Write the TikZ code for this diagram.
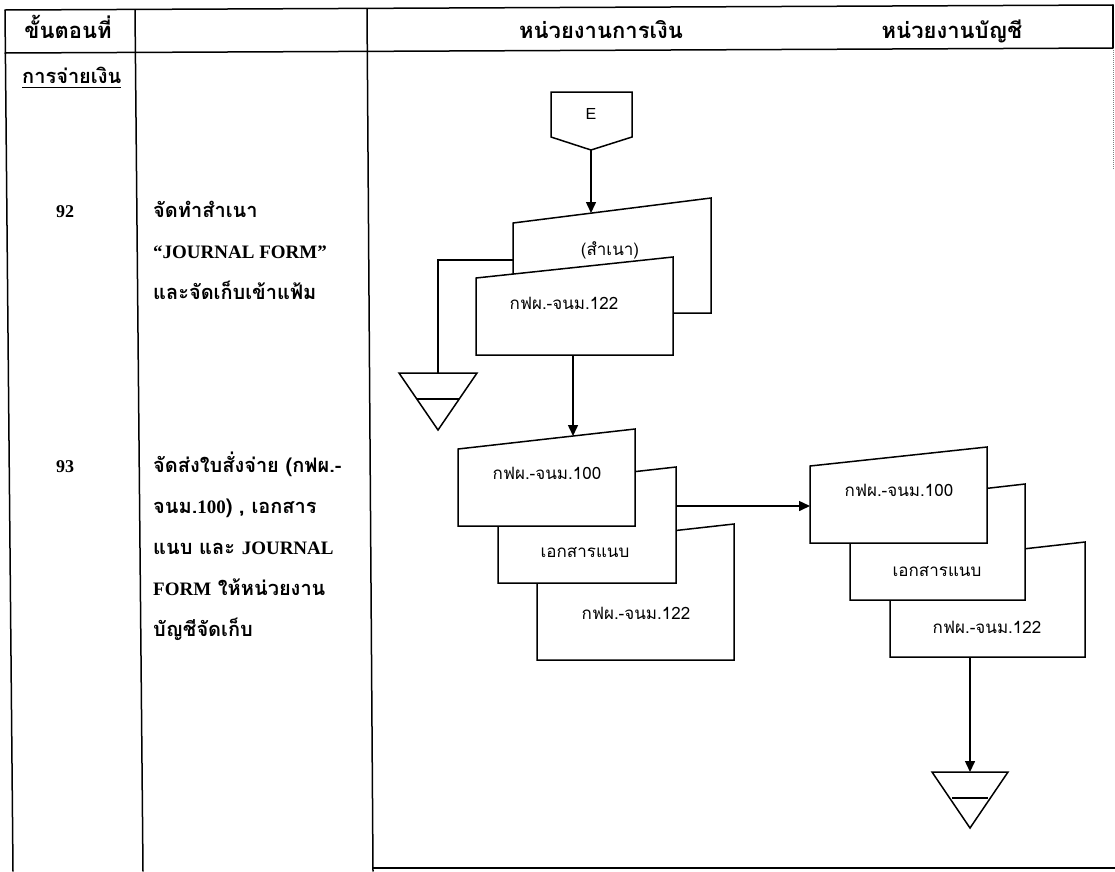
\documentclass[tikz,border=0pt]{standalone}
\usepackage{fontspec}
\setmainfont{Liberation Serif}
\setsansfont{Liberation Sans}
\newfontfamily\thaifont[Script=Thai]{Loma}
\usetikzlibrary{arrows.meta}
% Latin words inside the Thai step descriptions
\newcommand\lat[1]{{\rmfamily\bfseries\fontsize{19}{21}\selectfont #1}}
\begin{document}
\begin{tikzpicture}[x=1pt,y=-1pt,
  rule/.style={line width=1.5pt,line cap=round},
  docbox/.style={draw,line width=1.5pt,fill=white,line join=miter},
  flow/.style={line width=1.5pt,-{Triangle[length=11pt,width=10pt]}},
  link/.style={line width=1.5pt},
  filebox/.style={draw,line width=1.5pt,fill=white},
  head/.style={font=\thaifont\bfseries\fontsize{22}{24}\selectfont,anchor=base,inner sep=0pt},
  steptext/.style={font=\thaifont\bfseries\fontsize{20}{22}\selectfont,anchor=base west,inner sep=0pt},
  stepno/.style={font=\bfseries\fontsize{18}{20}\selectfont,anchor=base,inner sep=0pt},
  doclabel/.style={font=\thaifont\fontsize{17}{19}\selectfont,inner sep=0pt},
]
\useasboundingbox (0,0) rectangle (1115,871);

% ---- table frame ----
\draw[rule] (5,10) -- (1113,5);
\draw[rule] (5,53) -- (1113,48);
\draw[rule] (5,10) -- (13,871);
\draw[rule] (135,10) -- (143,871);
\draw[rule] (367,9) -- (373,871);
\draw[rule] (1113,5) -- (1113,48);
\draw[line width=1pt,densely dotted,gray] (1113,48) -- (1113,170);
\draw[rule] (373,868) -- (1115,868);

% ---- header ----
\node[head] (hstep) at (68,38) {ขั้นตอนที่};
\node[head] (hfin) at (601,38) {หน่วยงานการเงิน};
\node[head] (hacc) at (952,38) {หน่วยงานบัญชี};

\node[steptext] (pay) at (22,83) {การจ่ายเงิน};
\draw[line width=1pt] ([yshift=-4pt]pay.base west) -- ([yshift=-4pt]pay.base east);

% ---- step 92 ----
\node[stepno] (n92) at (65,217) {92};
\node[steptext] (s92a) at (153,217) {จัดทำสำเนา};
\node[steptext] (s92b) at (153,258) {\lat{“JOURNAL FORM”}};
\node[steptext] (s92c) at (153,299) {และจัดเก็บเข้าแฟ้ม};

% ---- step 93 ----
\node[stepno] (n93) at (65,472) {93};
\node[steptext] (s93a) at (153,472) {จัดส่งใบสั่งจ่าย (กฟผ.-};
\node[steptext] (s93b) at (153,513) {จนม.\lat{100}) , เอกสาร};
\node[steptext] (s93c) at (153,554) {แนบ และ \lat{JOURNAL}};
\node[steptext] (s93d) at (153,595) {\lat{FORM} ให้หน่วยงาน};
\node[steptext] (s93e) at (153,636) {บัญชีจัดเก็บ};

% ---- off-page connector E ----
\draw[line width=1.5pt] (551,92) -- (632,92) -- (632,137) -- (591,150) -- (551,137) -- cycle;
\node[font=\sffamily\fontsize{16}{18}\selectfont] (E) at (591,114) {E};
\coordinate (Etip) at (591,150);

% ---- copy and JOURNAL FORM (finance) ----
\draw[docbox] (513,313) -- (513,223) -- (711,198) -- (711,313) -- cycle;
\coordinate (copytop) at (591,213);
\coordinate (copyleft) at (513,260);
\node[doclabel] (copy) at (610,250) {(สำเนา)};
\draw[docbox] (476,355) -- (476,278) -- (673,257) -- (673,355) -- cycle;
\node[doclabel] (jf1) at (564,303) {กฟผ.-จนม.122};
\coordinate (jf1bot) at (573,355);

\draw[flow] (Etip) -- (copytop);

% file for the copy
\coordinate (file1top) at (438,373);
\draw[link] (copyleft) -- (438,260) -- (file1top);
\draw[filebox] (399,373) -- (477,373) -- (438,430) -- cycle;
\draw[line width=1.5pt] (417,399) -- (459,399);

% ---- documents sent by finance ----
\draw[docbox] (537,660) -- (537,546) -- (734,524) -- (734,660) -- cycle;
\node[doclabel] (f122) at (636,613) {กฟผ.-จนม.122};
\draw[docbox] (498,583) -- (498,487) -- (676,467) -- (676,583) -- cycle;
\node[doclabel] (fatt) at (585,553) {เอกสารแนบ};
\draw[docbox] (458,526) -- (458,449) -- (635,429) -- (635,526) -- cycle;
\node[doclabel] (f100) at (547,473) {กฟผ.-จนม.100};
\coordinate (f100top) at (573,436);
\coordinate (fattright) at (676,506);

\draw[flow] (jf1bot) -- (f100top);

% ---- documents received by accounting ----
\draw[docbox] (890,657) -- (890,564) -- (1085,542) -- (1085,657) -- cycle;
\node[doclabel] (a122) at (987,627) {กฟผ.-จนม.122};
\draw[docbox] (850,600) -- (850,504) -- (1025,484) -- (1025,600) -- cycle;
\node[doclabel] (aatt) at (937,572) {เอกสารแนบ};
\draw[docbox] (810,543) -- (810,466) -- (987,447) -- (987,543) -- cycle;
\node[doclabel] (a100) at (899,490) {กฟผ.-จนม.100};
\coordinate (a100left) at (810,506);
\coordinate (a122bot) at (970,657);

\draw[flow] (fattright) -- (a100left);

% file for accounting
\coordinate (file2top) at (970,772);
\draw[flow] (a122bot) -- (file2top);
\draw[filebox] (932,772) -- (1008,772) -- (970,828) -- cycle;
\draw[line width=1.5pt] (952,798) -- (988,798);
\end{tikzpicture}
\end{document}
